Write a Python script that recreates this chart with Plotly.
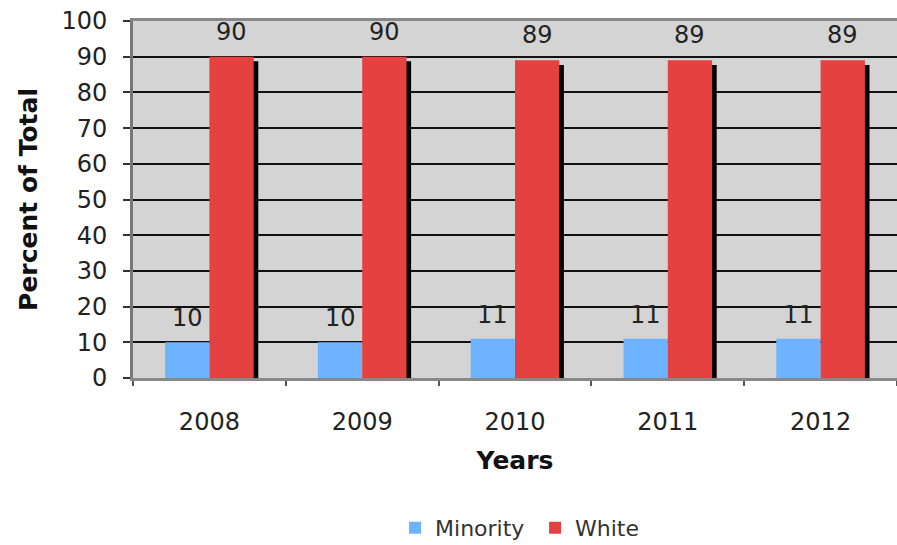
import plotly.graph_objects as go

years = ["2008", "2009", "2010", "2011", "2012"]
minority = [10, 10, 11, 11, 11]
white = [90, 90, 89, 89, 89]
y_ticks = [0, 10, 20, 30, 40, 50, 60, 70, 80, 90, 100]

FONT = "DejaVu Sans, Verdana, sans-serif"
BLUE = "#6db3ff"
RED = "#e54141"
W = 0.29

fig = go.Figure()
# shadow behind white bars
fig.add_trace(go.Bar(x=years, y=[v - 1.3 for v in white], offset=0.03, width=W,
                     marker=dict(color="#000000", line=dict(width=0)),
                     showlegend=False, hoverinfo="skip"))
fig.add_trace(go.Bar(x=years, y=minority, name="Minority", offset=-W, width=W,
                     marker=dict(color=BLUE, line=dict(width=0))))
fig.add_trace(go.Bar(x=years, y=white, name="White", offset=0, width=W,
                     marker=dict(color=RED, line=dict(width=0))))

ann = []
for i, yr in enumerate(years):
    ann.append(dict(x=i - W / 2, y=minority[i], text=str(minority[i]), xref="x", yref="y",
                    showarrow=False, yanchor="bottom", yshift=8,
                    font=dict(family=FONT, size=24, color="#222")))
    ann.append(dict(x=i + W / 2, y=white[i], text=str(white[i]), xref="x", yref="y",
                    showarrow=False, yanchor="bottom", yshift=9,
                    font=dict(family=FONT, size=24, color="#222")))

fig.update_layout(
    width=897, height=545,
    margin=dict(l=133, r=0, t=21, b=167, autoexpand=False),
    paper_bgcolor="white", plot_bgcolor="#d4d4d4",
    barmode="overlay",
    font=dict(family=FONT, size=24, color="#222"),
    annotations=ann,
    legend=dict(orientation="h", x=0.343, xanchor="left", y=-0.42, yanchor="middle",
                font=dict(family=FONT, size=22, color="#333"),
                itemwidth=30, entrywidth=95, entrywidthmode="pixels",
                traceorder="normal"),
    xaxis=dict(type="category", range=[-0.5, 4.5], tickson="boundaries",
               ticks="outside", ticklen=5, automargin=False,
               tickcolor="#555", tickwidth=2, showline=True, linecolor="#888",
               linewidth=3, mirror=True, showgrid=False, ticklabelstandoff=20,
               tickfont=dict(family=FONT, size=24, color="#222"),
               title=dict(text="<b>Years</b>", standoff=17,
                          font=dict(family=FONT, size=25, color="#111"))),
    yaxis=dict(range=[0, 100], tickvals=y_ticks, ticks="outside", ticklen=7,
               automargin=False,
               tickcolor="#333", tickwidth=2, showline=True, linecolor="#777",
               linewidth=3, mirror=True, showgrid=True, gridcolor="#111",
               gridwidth=2, zeroline=False, ticklabelstandoff=11,
               tickfont=dict(family=FONT, size=24, color="#222"),
               title=dict(text="<b>Percent of Total</b>", standoff=17,
                          font=dict(family=FONT, size=25, color="#111"))),
)

fig.write_html("out.html")
